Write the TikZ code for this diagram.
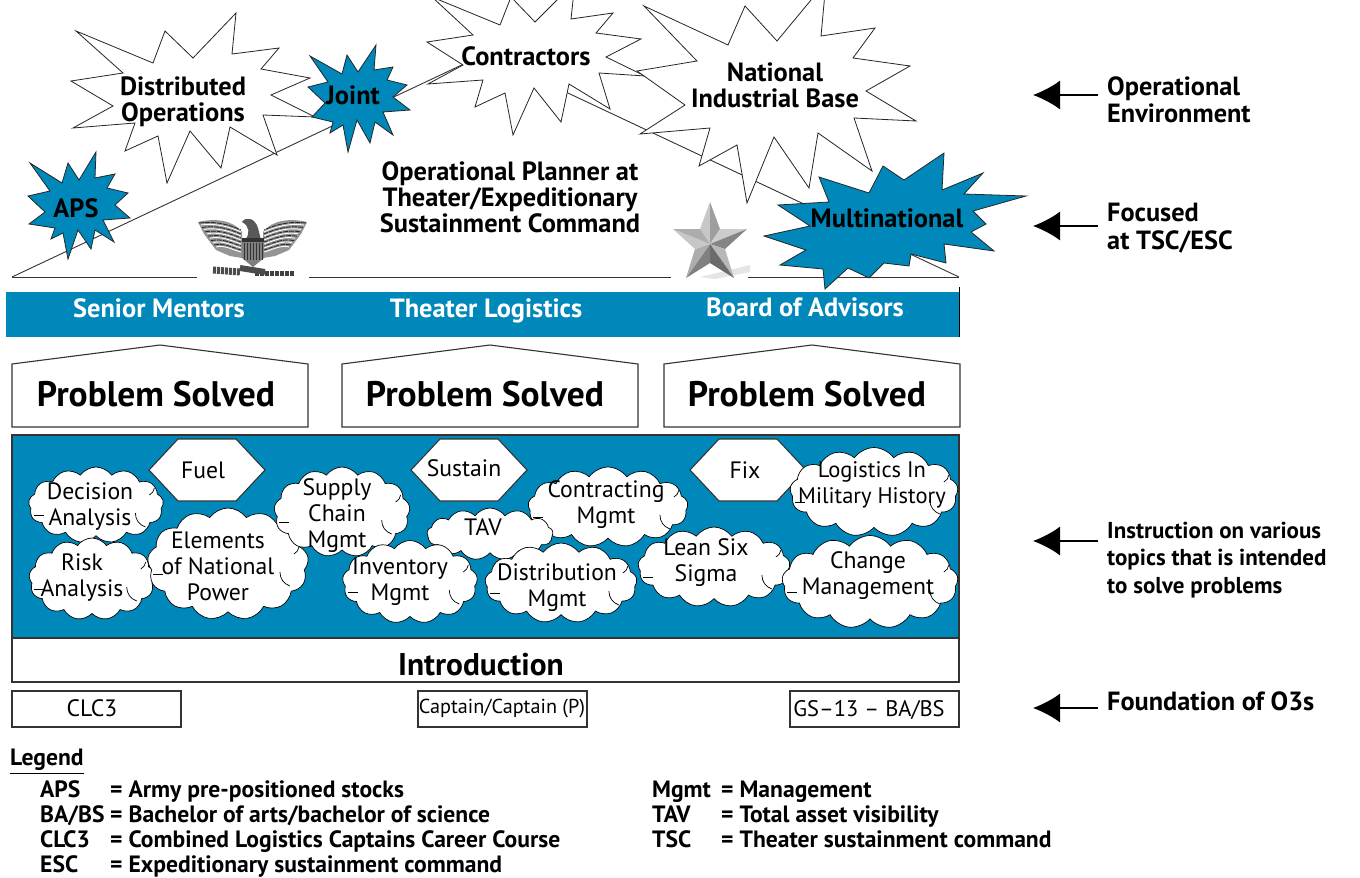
\documentclass[tikz,border=0pt]{standalone}
\usepackage{fontspec}
\usepackage{amsmath}
\setmainfont{PT Sans}
\usetikzlibrary{arrows.meta,shapes.symbols}
\definecolor{panelblue}{HTML}{0088BB}
\tikzset{
	burst/.style={draw=black!85,line width=0.8pt,fill=white,line join=miter},
	blueburst/.style={burst,fill=panelblue},
	thinline/.style={draw=black!80,line width=0.9pt},
	frame/.style={draw=black!80,line width=1.1pt},
	puff/.style={cloud,cloud puffs=13,cloud puff arc=110,cloud ignores aspect,draw=black,line width=0.7pt,fill=white,inner sep=0pt},
	innerarc/.style={draw=black,line width=0.7pt},
	boldtext/.style={font=\fontsize{26.4}{26}\selectfont\bfseries,align=center,inner sep=0pt},
	bartext/.style={boldtext,text=white,anchor=base},
	solvedtext/.style={font=\fontsize{35.5}{36}\selectfont\bfseries,inner sep=0pt},
	plaintext/.style={font=\fontsize{23.7}{26}\selectfont,align=center,inner sep=0pt},
	sidetext/.style={font=\fontsize{26.3}{27.5}\selectfont\bfseries,align=left,inner sep=9pt,anchor=west},
	legendtext/.style={font=\fontsize{23.6}{25}\selectfont\bfseries,inner sep=0pt,anchor=base west},
	pointer/.style={-{Latex[length=27pt,width=29pt]},line width=1.6pt}
}
\newcommand{\hexbox}[4]{
	\draw[frame,fill=white,shift={(#2)}] (-58,0) -- (-29,-31) -- (29,-31) -- (58,0) -- (29,31) -- (-29,31) -- cycle;
	\node[plaintext] (#1) at (#3) {#4};
}
\newcommand{\eaglewing}{
	\fill[black!42] (198,222) .. controls (215,218) and (233,220) .. (242,232) -- (242,258) -- (230,256) -- (216,250) -- (204,234) -- cycle;
	\foreach \y in {0,1,2,3,4,5}
		\draw[white,line width=0.9pt] (201+3*\y,225+4.4*\y) .. controls (214+2*\y,223+4.4*\y) and (228,226+4.4*\y) .. (241,232+4*\y);
	\foreach \y in {0,1,2,3,4,5}
		\draw[black!85,line width=0.8pt,dash pattern=on 5pt off 1pt] (199+3*\y,223+4.4*\y) .. controls (214+2*\y,221+4.4*\y) and (228,224+4.4*\y) .. (241,230+4*\y);
}
\begin{document}
\begin{tikzpicture}[x=1pt,y=-1pt]
	\clip (0,0) rectangle (1360,878);
	\fill[white] (0,0) rectangle (1360,878);

	% roof and ground line
	\draw[thinline] (12,277) -- (485,54) -- (959,277);
	\draw[thinline] (12,277) -- (197,277);
	\draw[thinline] (309,277) -- (671,277);
	\draw[thinline] (748,277) -- (959,277);

	% bursts
	\draw[burst] (76,31) -- (153,63) -- (165,31) -- (193,58) -- (236,13) -- (232,54) -- (279,48) -- (261,69) -- (310,78) -- (271,95) -- (315,117) -- (263,115) -- (277,155) -- (230,127) -- (221,168) -- (190,131) -- (167,183) -- (158,136) -- (125,151) -- (135,123) -- (73,128) -- (113,106) -- (71,81) -- (123,73) -- cycle;
	\draw[burst] (432,-3) -- (500,25) -- (511,-3) -- (535,22) -- (575,-18) -- (571,19) -- (613,13) -- (596,33) -- (641,39) -- (606,57) -- (645,76) -- (599,73) -- (610,109) -- (569,84) -- (561,122) -- (534,88) -- (513,135) -- (505,93) -- (475,107) -- (483,80) -- (428,84) -- (463,65) -- (427,42) -- (473,35) -- cycle;
	\draw[burst] (644,6) -- (728,45) -- (745,6) -- (777,41) -- (826,-18) -- (821,36) -- (875,28) -- (853,58) -- (910,66) -- (866,91) -- (916,121) -- (854,118) -- (872,171) -- (818,133) -- (809,188) -- (774,137) -- (747,203) -- (737,145) -- (699,166) -- (710,128) -- (640,134) -- (685,105) -- (637,71) -- (697,61) -- cycle;
	\draw[blueburst] (310,56) -- (342,74) -- (347,55) -- (358,72) -- (376,45) -- (374,70) -- (393,67) -- (387,80) -- (407,85) -- (393,97) -- (410,110) -- (383,112) -- (393,135) -- (375,122) -- (370,143) -- (357,120) -- (348,152) -- (343,125) -- (330,133) -- (333,122) -- (312,117) -- (325,103) -- (308,87) -- (328,82) -- cycle;
	\draw[blueburst] (30,163) -- (62,183) -- (68,163) -- (79,180) -- (96,152) -- (95,178) -- (115,174) -- (107,188) -- (128,193) -- (115,205) -- (130,218) -- (103,220) -- (114,242) -- (95,230) -- (91,249) -- (78,230) -- (68,259) -- (63,233) -- (51,239) -- (55,228) -- (29,224) -- (45,212) -- (28,196) -- (50,191) -- cycle;
	\draw[blueburst] (778,205) -- (829,202) -- (819,177) -- (869,193) -- (883,166) -- (904,180) -- (944,153) -- (942,190) -- (983,173) -- (964,194) -- (1026,196) -- (973,211) -- (986,224) -- (971,232) -- (994,251) -- (944,244) -- (946,263) -- (911,254) -- (909,266) -- (884,263) -- (869,278) -- (848,268) -- (825,289) -- (823,269) -- (780,265) -- (806,250) -- (764,236) -- (810,226) -- cycle;

	\node[boldtext] (distributed) at (183,102) {Distributed\\Operations};
	\node[boldtext] (joint) at (353,95) {Joint};
	\node[boldtext] (contractors) at (526,56) {Contractors};
	\node[boldtext] (national) at (775,85) {National\\Industrial Base};
	\node[boldtext] (aps) at (76,208) {APS};
	\node[boldtext] (multinational) at (887,218) {Multinational};
	\node[boldtext] (planner) at (510,197) {Operational Planner at\\Theater/Expeditionary\\Sustainment Command};

	% eagle
	\eaglewing
	\begin{scope}[shift={(505,0)},xscale=-1]
		\eaglewing
	\end{scope}
	\fill[black!65] (242,222) .. controls (246,216) and (255,218) .. (258,228) -- (261,240) -- (245,240) .. controls (250,234) and (250,226) .. (242,222);
	\fill[black!50] (242,238) -- (264,238) -- (264,258) -- (253,267) -- (242,258) -- cycle;
	\fill[black!80] (242,238) rectangle (264,242);
	\foreach \x in {244,247,...,262}
		\draw[black!80,line width=0.6pt] (\x,243) -- (\x,260);
	\draw[black!70,line width=7pt,dash pattern=on 3pt off 1pt] (213,270) -- (240,272);
	\draw[black!75,line width=5pt,dash pattern=on 4pt off 1pt] (255,273) -- (294,273);
	\draw[black!70,line width=6pt] (240,268) -- (265,272);

	% star
	\fill[black!10] (700,277) -- (750,265) -- (750,272) -- (715,279) -- cycle;
	\fill[black!22] (710,202) -- (710,244) -- (700,229) -- cycle;
	\fill[black!38] (710,202) -- (710,244) -- (720,229) -- cycle;
	\fill[black!20] (747,229) -- (710,244) -- (720,229) -- cycle;
	\fill[black!48] (747,229) -- (710,244) -- (725,249) -- cycle;
	\fill[black!28] (734,278) -- (710,244) -- (725,249) -- cycle;
	\fill[black!58] (734,278) -- (710,244) -- (710,263) -- cycle;
	\fill[black!50] (686,278) -- (710,244) -- (710,263) -- cycle;
	\fill[black!32] (686,278) -- (710,244) -- (695,249) -- cycle;
	\fill[black!22] (673,229) -- (710,244) -- (695,249) -- cycle;
	\fill[black!32] (673,229) -- (710,244) -- (700,229) -- cycle;

	% blue bar
	\fill[panelblue] (6,292) rectangle (959,337);
	\draw[black,line width=0.9pt] (959,287) -- (959,337);
	\node[bartext] (mentors) at (159,317) {Senior Mentors};
	\node[bartext] (theater) at (486,317) {Theater Logistics};
	\node[bartext] (advisors) at (805,316) {Board of Advisors};

	% problem boxes
	\foreach \x/\tx/\nm in {12/156/solvedA,342/485/solvedB,664/807/solvedC}{
		\draw[frame] (\x,427) -- (\x+296,427) -- (\x+296,364) -- (\x+148,345) -- (\x,364) -- cycle;
		\node[solvedtext] (\nm) at (\tx,394) {Problem Solved};
	}

	% instruction panel
	\draw[frame,fill=panelblue] (12,435) rectangle (959,638);
	\draw[frame] (12,638) rectangle (959,682);
	\node[font=\fontsize{31.4}{33}\selectfont\bfseries,inner sep=0pt] (intro) at (481,665) {Introduction};

	\hexbox{fuel}{207,470}{203,470}{Fuel}
	\hexbox{sustain}{469,470}{464,468}{Sustain}
	\hexbox{fix}{748,470}{745,470}{Fix}

	\node[puff,minimum width=135pt,minimum height=76pt] (decision) at (96,505) {};
	\node[puff,minimum width=126pt,minimum height=82pt] (risk) at (92,579) {};
	\node[puff,minimum width=161pt,minimum height=112pt] (elements) at (228,564) {};
	\node[puff,minimum width=136pt,minimum height=90pt] (supply) at (342,512) {};
	\node[puff,minimum width=160pt,minimum height=80pt] (contracting) at (608,507) {};
	\node[puff,minimum width=126pt,minimum height=52pt] (tav) at (490,534) {};
	\node[puff,minimum width=135pt,minimum height=83pt] (inventory) at (410,582) {};
	\node[puff,minimum width=152pt,minimum height=80pt] (distribution) at (561,583) {};
	\node[puff,minimum width=152pt,minimum height=80pt] (lean) at (714,567) {};
	\node[puff,minimum width=168pt,minimum height=89pt] (logistics) at (874,492) {};
	\node[puff,minimum width=176pt,minimum height=93pt] (change) at (870,582) {};
	\foreach \c in {decision,risk,elements,supply,contracting,inventory,distribution,lean,logistics,change}{
		\draw[innerarc] ([shift={(-28,8)}]\c.east) to[bend right=35] +(10,14);
		\draw[innerarc] ([shift={(-14,-10)}]\c.east) to[bend right=25] +(5,-7);
		\draw[innerarc] ([shift={(5,10)}]\c.west) -- +(10,0);
	}

	\node[plaintext] (decisiontext) at (90,507) {Decision\\Analysis};
	\node[plaintext] (risktext) at (82,578) {Risk\\Analysis};
	\node[plaintext] (elementstext) at (218,566) {Elements\\of National\\Power};
	\node[plaintext] (supplytext) at (337,516) {Supply\\Chain\\Mgmt};
	\node[plaintext] (contractingtext) at (606,505) {Contracting\\Mgmt};
	\node[plaintext] (tavtext) at (483,527) {TAV};
	\node[plaintext] (inventorytext) at (400,582) {Inventory\\Mgmt};
	\node[plaintext] (distributiontext) at (557,588) {Distribution\\Mgmt};
	\node[plaintext] (leantext) at (706,563) {Lean Six\\Sigma};
	\node[plaintext,font=\fontsize{22.5}{26}\selectfont] (logisticstext) at (872,485) {Logistics In\\Military History};
	\node[plaintext] (changetext) at (868,576) {Change\\Management};

	% bottom boxes
	\draw[frame] (12,691) rectangle (181,727);
	\draw[frame] (418,691) rectangle (587,727);
	\draw[frame] (790,691) rectangle (959,727);
	\node[plaintext] (clc) at (92,708) {CLC3};
	\node[font=\fontsize{20.2}{22}\selectfont,inner sep=0pt] (captain) at (502,709) {Captain/Captain (P)};
	\node[plaintext,font=\fontsize{22.5}{24}\selectfont] (gs) at (869,710) {GS--13 -- BA/BS};

	% side labels
	\node[sidetext] (envlabel) at (1098,100) {Operational\\Environment};
	\node[sidetext] (tsclabel) at (1098,228) {Focused\\at TSC/ESC};
	\node[sidetext,font=\fontsize{23}{27.5}\selectfont\bfseries] (topiclabel) at (1098,560) {Instruction on various\\topics that is intended\\to solve problems};
	\node[sidetext] (baselabel) at (1098,701) {Foundation of O3s};
	\coordinate (envtip) at (1033,95);
	\coordinate (tsctip) at (1033,226);
	\coordinate (topictip) at (1033,541);
	\coordinate (basetip) at (1033,708);
	\draw[pointer] (envlabel.west |- envtip) -- (envtip);
	\draw[pointer] (tsclabel.west |- tsctip) -- (tsctip);
	\draw[pointer] (topiclabel.west |- topictip) -- (topictip);
	\draw[pointer] (baselabel.west |- basetip) -- (basetip);

	% legend
	\node[legendtext] (legend) at (10,765) {\underline{Legend}};
	\foreach \k/\d [count=\i] in {APS/Army pre-positioned stocks,{BA/BS}/{Bachelor of arts/bachelor of science},CLC3/Combined Logistics Captains Career Course,ESC/Expeditionary sustainment command}{
		\node[legendtext] (keyL\i) at (40,771.7+25.3*\i) {\k};
		\node[legendtext] (valL\i) at (110,771.7+25.3*\i) {= \d};
	}
	\foreach \k/\d [count=\i] in {Mgmt/Management,TAV/Total asset visibility,TSC/Theater sustainment command}{
		\node[legendtext] (keyR\i) at (652,771.7+25.3*\i) {\k};
		\node[legendtext] (valR\i) at (721,771.7+25.3*\i) {= \d};
	}
\end{tikzpicture}
\end{document}
